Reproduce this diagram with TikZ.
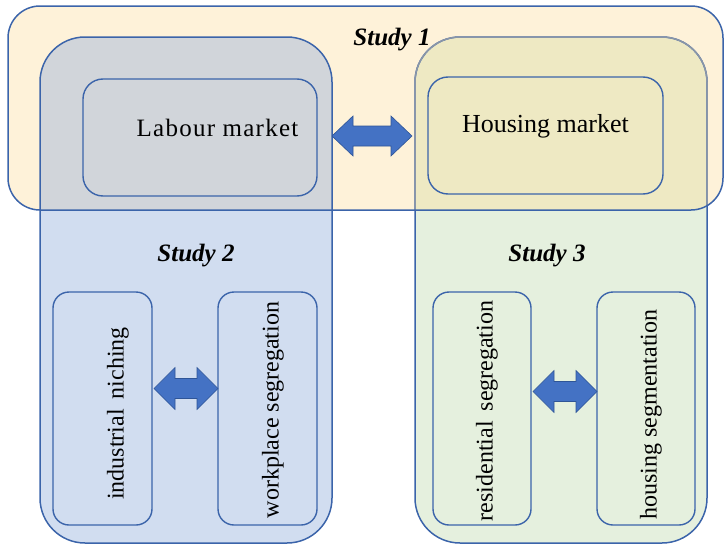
\documentclass[tikz,border=0pt]{standalone}
\usepackage{fontspec}
\setmainfont{Liberation Serif}
\usetikzlibrary{calc}

\definecolor{fillone}{HTML}{FEF2D9}
\definecolor{filltwo}{HTML}{D1DDF0}
\definecolor{fillthree}{HTML}{E5F0DE}
\definecolor{filltwelve}{HTML}{D1D5DA}
\definecolor{fillthirteen}{HTML}{EEE9C3}
\definecolor{edgeblue}{HTML}{3B64AA}
\definecolor{edgegrey}{HTML}{8A96A8}
\definecolor{arrowfill}{HTML}{4472C4}
\definecolor{arrowedge}{HTML}{2F5597}

\tikzset{
  innerbox/.style={draw=edgeblue, line width=1.4pt, rounded corners=#1,
    inner sep=0pt, outer sep=0pt},
  studyedge/.style={draw=edgeblue, line width=1.5pt},
  studylabel/.style={font=\fontsize{25}{30}\selectfont\bfseries\itshape},
  boxtext/.style={font=\fontsize{26}{30}\selectfont, inner sep=0pt},
  vtext/.style={font=\fontsize{24}{28}\selectfont, rotate=90, inner sep=0pt},
  fatarrow/.style={fill=arrowfill, draw=arrowedge, line width=0.6pt, line join=miter},
}

% horizontal double block arrow between two named points
% #1 left point, #2 right point, #3 half shaft, #4 half head, #5 head length
\newcommand\blockarrow[5]{%
  \path[fatarrow] let \p1=(#1), \p2=(#2) in
    (\x1,\y1) -- (\x1+#5,\y1+#4) -- (\x1+#5,\y1+#3) -- (\x2-#5,\y1+#3)
    -- (\x2-#5,\y1+#4) -- (\x2,\y1) -- (\x2-#5,\y1-#4) -- (\x2-#5,\y1-#3)
    -- (\x1+#5,\y1-#3) -- (\x1+#5,\y1-#4) -- cycle;}

\begin{document}
\begin{tikzpicture}[x=1pt, y=-1pt]
\useasboundingbox (0,0) rectangle (725,546);

% corners of the three study areas
\coordinate (s1nw) at (8,6);    \coordinate (s1se) at (723,210);
\coordinate (s2nw) at (40,37);  \coordinate (s2se) at (332,543);
\coordinate (s3nw) at (415,37); \coordinate (s3se) at (707,543);

% area fills
\fill[fillone, rounded corners=32] (s1nw) rectangle (s1se);
\fill[filltwo, rounded corners=45] (s2nw) rectangle (s2se);
\fill[fillthree, rounded corners=45] (s3nw) rectangle (s3se);
\begin{scope}
  \clip[rounded corners=32] (s1nw) rectangle (s1se);
  \fill[filltwelve, rounded corners=45] (s2nw) rectangle (s2se);
  \fill[fillthirteen, rounded corners=45] (s3nw) rectangle (s3se);
\end{scope}

% area borders
\draw[studyedge, rounded corners=45] (s3nw) rectangle (s3se);
\begin{scope}
  \clip[rounded corners=32] (s1nw) rectangle (s1se);
  \draw[studyedge, draw=edgegrey, rounded corners=45] (s3nw) rectangle (s3se);
\end{scope}
\draw[studyedge, rounded corners=32] (s1nw) rectangle (s1se);
\draw[studyedge, rounded corners=45] (s2nw) rectangle (s2se);

% area titles
\node[studylabel] (t1) at (392,40) {Study 1};
\node[studylabel] (t2) at (196,256) {Study 2};
\node[studylabel] (t3) at (547,256) {Study 3};

% Study 1 boxes
\node[innerbox=20, minimum width=234pt, minimum height=117pt] (lab) at (200,137.5) {};
\node[boxtext, anchor=base] (labt) at (217.5,136)
  {\addfontfeature{LetterSpace=5}\fontsize{25}{30}\selectfont Labour market};
\node[innerbox=20, minimum width=235pt, minimum height=117pt] (hous) at (545.5,135.5) {};
\node[boxtext, anchor=base] (houst) at (545.5,132) {Housing market};

% Study 2 boxes
\node[innerbox=16, minimum width=99pt, minimum height=233pt] (ind) at (102.5,408.5) {};
\node[vtext] (indt) at (118,413.5) {industrial\ \,niching};
\node[innerbox=16, minimum width=99pt, minimum height=233pt] (work) at (267.5,408.5) {};
\node[vtext] (workt) at (273,410) {workplace segregation};

% Study 3 boxes
\node[innerbox=16, minimum width=98pt, minimum height=233pt] (res) at (482,408.5) {};
\node[vtext] (rest) at (487,411) {residential\ \,segregation};
\node[innerbox=16, minimum width=98pt, minimum height=233pt] (hseg) at (646,408.5) {};
\node[vtext] (hsegt) at (651,414.5) {housing segmentation};

% arrows
\coordinate (a1l) at ($(s2se|-lab.center)+(0,-1.5)$);
\coordinate (a1r) at ($(s3nw|-lab.center)+(-3,-1.5)$);
\blockarrow{a1l}{a1r}{10}{20}{21}
\coordinate (a2l) at ($(ind.east)+(2,-20)$);
\coordinate (a2r) at ($(work.west)+(0,-20)$);
\blockarrow{a2l}{a2r}{10}{21}{21}
\coordinate (a3l) at ($(res.east)+(2,-17)$);
\coordinate (a3r) at ($(hseg.west)+(0,-17)$);
\blockarrow{a3l}{a3r}{10}{21}{21}
\end{tikzpicture}
\end{document}
